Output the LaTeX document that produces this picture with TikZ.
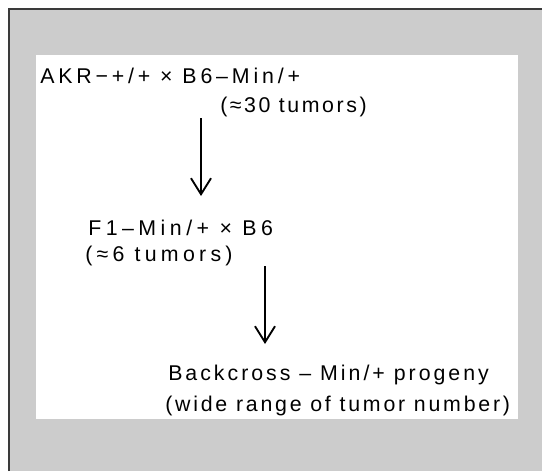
\documentclass[tikz,border=0pt]{standalone}
\usepackage{fontspec}
\setmainfont{Liberation Sans}
\usetikzlibrary{arrows.meta}
\definecolor{panelgray}{HTML}{CCCCCC}
\definecolor{framedark}{HTML}{3A3A3A}
\tikzset{
  lbl/.style={anchor=base west, inner sep=0pt,
    font=\fontsize{16pt}{19pt}\selectfont\addfontfeature{LetterSpace=#1}},
  lbl/.default=14,
  flow/.style={line width=1.4pt, -{Straight Barb[length=12pt,width=15pt,line width=1.4pt]}}
}
\begin{document}
\begin{tikzpicture}[x=0.75pt,y=-0.75pt]
  % canvas and grey panel
  \useasboundingbox (0,0) rectangle (542,471);
  \fill[white] (0,0) rectangle (542,471);
  \fill[panelgray] (9,9) rectangle (542,471);
  \draw[framedark, line width=1.5pt] (9,471) -- (9,9) -- (542,9);
  % white card holding the scheme
  \fill[white] (36,55) rectangle (518,419);

  % cross generations
  \node[lbl=18] (p0) at (40,83) {AKR−+/+ × B6–Min/+};
  \node[lbl=12] (p0n) at (220,112) {(≈30 tumors)};
  \node[lbl=21] (f1) at (88,235) {F1–Min/+ × B6};
  \node[lbl=20] (f1n) at (85,261) {(≈6 tumors)};
  \node[lbl=14] (bc) at (168,380) {Backcross – Min/+ progeny};
  \node[lbl=13] (bcn) at (165,411) {(wide range of tumor number)};

  % arrows between generations
  \coordinate (a1s) at (201,118);
  \coordinate (a1e) at (201,196);
  \coordinate (a2s) at (265,266);
  \coordinate (a2e) at (265,344);
  \draw[flow] (a1s) -- (a1e);
  \draw[flow] (a2s) -- (a2e);
\end{tikzpicture}
\end{document}
